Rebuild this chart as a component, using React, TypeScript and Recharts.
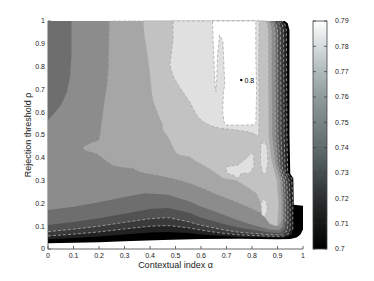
import React from 'react';
import { ComposedChart, Scatter, Bar, XAxis, YAxis, ReferenceDot, Label } from 'recharts';

type Pt = { x: number; y: number };
const P = (x: number, y: number): Pt => ({ x, y });

// axis ticks
const xTicks = [0, 0.1, 0.2, 0.3, 0.4, 0.5, 0.6, 0.7, 0.8, 0.9, 1];
const yTicks = [0, 0.1, 0.2, 0.3, 0.4, 0.5, 0.6, 0.7, 0.8, 0.9, 1];
const barTicks = [0.7, 0.71, 0.72, 0.73, 0.74, 0.75, 0.76, 0.77, 0.78, 0.79];

// contour levels (one shade per filled band)
const levels = [0.7, 0.71, 0.72, 0.73, 0.74, 0.75, 0.76, 0.77, 0.78, 0.79];
const shades = ['#000000', '#222222', '#3a3a3a', '#525252', '#6e6e6e', '#8c8c8c', '#a6a6a6', '#c2c2c2', '#e0e0e0', '#ffffff'];

// colour bar spans the level range
const colorbar = [{ name: 'cb', range: [0.7, 0.79] }];

// region where value >= 0.70 (outline of the computed domain)
const region0: Pt[] = [
  P(0, 1), P(0, 0.025), P(0.1, 0.027), P(0.2, 0.03), P(0.3, 0.034), P(0.45, 0.04), P(0.6, 0.044),
  P(0.75, 0.045), P(0.9, 0.043), P(0.95, 0.044), P(0.975, 0.05), P(0.99, 0.064), P(1, 0.085),
  P(1, 0.19), P(0.964, 0.194), P(0.962, 0.31), P(0.95, 0.33), P(0.947, 0.5), P(0.947, 0.96),
  P(0.94, 0.99), P(0.928, 1),
];

// lower bands: bottom edge (left to right) and right edge (bottom to top)
const bottom1: Pt[] = [P(0, 0.043), P(0.1, 0.048), P(0.2, 0.055), P(0.3, 0.064), P(0.4, 0.072), P(0.47, 0.075), P(0.55, 0.07), P(0.6, 0.064), P(0.67, 0.058), P(0.75, 0.053), P(0.87, 0.05), P(0.93, 0.05), P(0.955, 0.062)];
const right1: Pt[] = [P(0.96, 0.085), P(0.96, 0.2), P(0.956, 0.31), P(0.94, 0.33), P(0.937, 0.5), P(0.935, 0.96), P(0.928, 0.99), P(0.917, 1)];

const bottom2: Pt[] = [P(0, 0.057), P(0.1, 0.065), P(0.2, 0.075), P(0.3, 0.088), P(0.4, 0.1), P(0.47, 0.103), P(0.55, 0.093), P(0.6, 0.083), P(0.67, 0.071), P(0.75, 0.062), P(0.87, 0.056), P(0.92, 0.056), P(0.945, 0.068)];
const right2: Pt[] = [P(0.95, 0.09), P(0.95, 0.2), P(0.946, 0.3), P(0.93, 0.34), P(0.926, 0.5), P(0.924, 0.96), P(0.918, 0.99), P(0.907, 1)];

const bottom3: Pt[] = [P(0, 0.076), P(0.1, 0.087), P(0.2, 0.1), P(0.3, 0.117), P(0.4, 0.133), P(0.47, 0.138), P(0.55, 0.12), P(0.6, 0.104), P(0.67, 0.088), P(0.75, 0.073), P(0.87, 0.063), P(0.915, 0.062), P(0.937, 0.078)];
const right3: Pt[] = [P(0.941, 0.11), P(0.941, 0.2), P(0.936, 0.3), P(0.92, 0.35), P(0.914, 0.5), P(0.912, 0.96), P(0.906, 0.99), P(0.896, 1)];

const bottom4: Pt[] = [P(0, 0.105), P(0.1, 0.118), P(0.2, 0.135), P(0.3, 0.155), P(0.4, 0.175), P(0.47, 0.18), P(0.55, 0.16), P(0.6, 0.138), P(0.67, 0.115), P(0.75, 0.093), P(0.8, 0.084), P(0.87, 0.072), P(0.91, 0.07), P(0.928, 0.088)];
const right4: Pt[] = [P(0.931, 0.12), P(0.931, 0.2), P(0.927, 0.3), P(0.91, 0.36), P(0.902, 0.5), P(0.9, 0.96), P(0.894, 0.99), P(0.884, 1)];

const bottom5: Pt[] = [P(0, 0.171), P(0.1, 0.185), P(0.2, 0.205), P(0.3, 0.228), P(0.38, 0.245), P(0.47, 0.238), P(0.55, 0.21), P(0.6, 0.186), P(0.67, 0.158), P(0.74, 0.128), P(0.8, 0.106), P(0.87, 0.086), P(0.905, 0.082), P(0.92, 0.098)];
const right5: Pt[] = [P(0.922, 0.13), P(0.922, 0.2), P(0.918, 0.3), P(0.9, 0.37), P(0.892, 0.5), P(0.89, 0.96), P(0.884, 0.99), P(0.873, 1)];
const topLeft5: Pt[] = [P(0.092, 1), P(0.092, 0.85), P(0.087, 0.76), P(0.075, 0.69), P(0.05, 0.63), P(0.02, 0.59), P(0, 0.565)];

const region6: Pt[] = [
  P(0.242, 1), P(0.24, 0.9), P(0.238, 0.8), P(0.233, 0.72), P(0.223, 0.653), P(0.215, 0.58), P(0.205, 0.5),
  P(0.2, 0.475), P(0.17, 0.465), P(0.145, 0.45), P(0.137, 0.443), P(0.15, 0.432), P(0.19, 0.42), P(0.22, 0.395),
  P(0.254, 0.368), P(0.29, 0.36), P(0.333, 0.355), P(0.36, 0.34), P(0.386, 0.333), P(0.43, 0.325), P(0.49, 0.31),
  P(0.556, 0.29), P(0.607, 0.267), P(0.67, 0.237), P(0.739, 0.207), P(0.79, 0.183), P(0.84, 0.158), P(0.88, 0.126),
  P(0.908, 0.106), P(0.915, 0.13), P(0.915, 0.2), P(0.91, 0.3), P(0.89, 0.38), P(0.878, 0.5), P(0.876, 0.96),
  P(0.871, 0.99), P(0.862, 1),
];

const region7: Pt[] = [
  P(0.373, 1), P(0.378, 0.93), P(0.39, 0.85), P(0.4, 0.763), P(0.405, 0.7), P(0.411, 0.653), P(0.418, 0.63),
  P(0.435, 0.58), P(0.45, 0.544), P(0.45, 0.522), P(0.465, 0.5), P(0.477, 0.478), P(0.49, 0.445), P(0.503, 0.42),
  P(0.517, 0.412), P(0.556, 0.404), P(0.58, 0.385), P(0.607, 0.368), P(0.65, 0.34), P(0.686, 0.31), P(0.739, 0.3),
  P(0.78, 0.272), P(0.817, 0.244), P(0.835, 0.2), P(0.85, 0.14), P(0.87, 0.11), P(0.9, 0.1), P(0.905, 0.2),
  P(0.898, 0.3), P(0.875, 0.4), P(0.866, 0.5), P(0.864, 0.96), P(0.86, 0.99), P(0.85, 1),
];

const region8: Pt[] = [
  P(0.49, 1), P(0.49, 0.92), P(0.484, 0.86), P(0.478, 0.807), P(0.49, 0.76), P(0.51, 0.72), P(0.528, 0.69),
  P(0.555, 0.646), P(0.582, 0.588), P(0.607, 0.558), P(0.64, 0.54), P(0.673, 0.53), P(0.739, 0.522),
  P(0.78, 0.515), P(0.81, 0.505), P(0.826, 0.49), P(0.828, 0.6), P(0.826, 0.8), P(0.828, 1),
];
const patch8a: Pt[] = [P(0.7, 0.361), P(0.745, 0.368), P(0.778, 0.398), P(0.797, 0.42), P(0.807, 0.412), P(0.807, 0.361), P(0.791, 0.332), P(0.758, 0.332), P(0.745, 0.31), P(0.725, 0.325), P(0.7, 0.332)];
const patch8b: Pt[] = [P(0.835, 0.46), P(0.85, 0.47), P(0.86, 0.44), P(0.862, 0.38), P(0.855, 0.33), P(0.84, 0.335), P(0.833, 0.38)];
const patch8c: Pt[] = [P(0.835, 0.2), P(0.845, 0.218), P(0.857, 0.21), P(0.86, 0.17), P(0.85, 0.14), P(0.838, 0.15)];

const region9: Pt[] = [
  P(0.645, 1), P(0.648, 0.9), P(0.652, 0.8), P(0.655, 0.72), P(0.658, 0.69), P(0.662, 0.75), P(0.665, 0.85),
  P(0.673, 0.939), P(0.686, 0.909), P(0.69, 0.8), P(0.693, 0.72), P(0.688, 0.69), P(0.685, 0.6), P(0.69, 0.56),
  P(0.693, 0.544), P(0.75, 0.543), P(0.815, 0.545), P(0.818, 0.7), P(0.815, 0.85), P(0.815, 1),
];

const peakLabel = [{ x: 0.758, y: 0.741, text: '0.8' }];

const topLeftCorner = [P(0, 1)];

const fills: { pts: Pt[]; level: number; outline: boolean }[] = [
  { pts: region0, level: 0, outline: false },
  { pts: [...bottom1, ...right1, ...topLeftCorner], level: 1, outline: false },
  { pts: [...bottom2, ...right2, ...topLeftCorner], level: 2, outline: false },
  { pts: [...bottom3, ...right3, ...topLeftCorner], level: 3, outline: false },
  { pts: [...bottom4, ...right4, ...topLeftCorner], level: 4, outline: false },
  { pts: [...bottom5, ...right5, ...topLeft5], level: 5, outline: false },
  { pts: region6, level: 6, outline: true },
  { pts: region7, level: 7, outline: true },
  { pts: region8, level: 8, outline: true },
  { pts: patch8a, level: 8, outline: true },
  { pts: patch8b, level: 8, outline: true },
  { pts: patch8c, level: 8, outline: true },
  { pts: region9, level: 9, outline: true },
];

const dashedEdges: Pt[][] = [right1, [...bottom2, ...right2], [...bottom3, ...right3], right4, right5];

const LINE = '#a9a9a9';

const polygon = (fill: string, outline: boolean) => (p: any) => (
  <polygon
    points={(p.points || []).map((q: Pt) => `${q.x},${q.y}`).join(' ')}
    fill={fill}
    stroke={outline ? LINE : 'none'}
    strokeWidth={0.8}
    strokeDasharray={outline ? '3 2' : undefined}
  />
);
const noDot = () => <g />;

// colour bar body: gradient rectangle plus the inward tick marks on both edges
const ColorbarShape = (p: any) => {
  const { x, y, width, height } = p;
  const lo = barTicks[0];
  const hi = barTicks[barTicks.length - 1];
  return (
    <g>
      <rect x={x} y={y} width={width} height={height} fill="url(#bone)" stroke="#444" strokeWidth={0.8} />
      {barTicks.map((t) => {
        const ty = y + (height * (hi - t)) / (hi - lo);
        return (
          <g key={t}>
            <line x1={x} x2={x + 3} y1={ty} y2={ty} stroke="#333" strokeWidth={0.7} />
            <line x1={x + width - 3} x2={x + width} y1={ty} y2={ty} stroke="#333" strokeWidth={0.7} />
          </g>
        );
      })}
    </g>
  );
};

const tickStyle = { fontSize: 7, fill: '#222' };

export default function App() {
  return (
    <div style={{ position: 'absolute', left: 0, top: 0, width: 374, height: 281, background: '#fff', fontFamily: '"Liberation Sans", Arial, sans-serif' }}>
      <div style={{ position: 'absolute', left: 0, top: 0 }}>
        <ComposedChart width={374} height={281} margin={{ top: 21, right: 71, bottom: 7, left: 0 }}>
          {fills.map((f, i) => (
            <Scatter
              key={`f${i}`}
              data={f.pts}
              dataKey="y"
              line={polygon(shades[f.level], f.outline)}
              shape={noDot}
              isAnimationActive={false}
              name={`${levels[f.level]}`}
            />
          ))}
          {dashedEdges.map((e, i) => (
            <Scatter
              key={`d${i}`}
              data={e}
              dataKey="y"
              line={{ stroke: LINE, strokeWidth: 0.8, strokeDasharray: '3 2', fill: 'none' }}
              shape={noDot}
              isAnimationActive={false}
            />
          ))}
          {peakLabel.map((p) => (
            <ReferenceDot
              key={p.text}
              x={p.x}
              y={p.y}
              r={1.2}
              fill="#000"
              stroke="none"
              label={{ value: p.text, position: 'right', offset: 2, fontSize: 7, fill: '#000' }}
            />
          ))}
          <XAxis
            dataKey="x"
            type="number"
            domain={[0, 1]}
            ticks={xTicks}
            interval={0}
            tickSize={-3}
            tickMargin={7}
            height={25}
            stroke="#666"
            tick={tickStyle}
          >
            <Label value="Contextual index α" position="insideBottom" offset={6} style={{ fontSize: 9, fill: '#222' }} />
          </XAxis>
          <YAxis
            dataKey="y"
            type="number"
            domain={[0, 1]}
            ticks={yTicks}
            interval={0}
            tickSize={-3}
            tickMargin={6}
            width={48}
            stroke="#666"
            tick={tickStyle}
          >
            <Label value="Rejection threshold ρ" angle={-90} position="insideLeft" offset={28} style={{ fontSize: 9, fill: '#222', textAnchor: 'middle' }} />
          </YAxis>
        </ComposedChart>
      </div>
      <div style={{ position: 'absolute', left: 300, top: 0 }}>
        <ComposedChart width={74} height={281} data={colorbar} barCategoryGap={0} margin={{ top: 21, right: 0, bottom: 32, left: 13 }}>
          <defs>
            <linearGradient id="bone" x1="0" y1="1" x2="0" y2="0">
              <stop offset="0%" stopColor="#000000" />
              <stop offset="22%" stopColor="#2a2e2e" />
              <stop offset="44%" stopColor="#5f6b6b" />
              <stop offset="56%" stopColor="#798585" />
              <stop offset="67%" stopColor="#909c9c" />
              <stop offset="78%" stopColor="#b0baba" />
              <stop offset="89%" stopColor="#d6dcdc" />
              <stop offset="100%" stopColor="#ffffff" />
            </linearGradient>
          </defs>
          <XAxis dataKey="name" type="category" hide />
          <Bar dataKey="range" shape={ColorbarShape} isAnimationActive={false} />
          <YAxis orientation="right" type="number" domain={[0.7, 0.79]} ticks={barTicks} interval={0} width={47} tickLine={false} tickMargin={2} axisLine={false} tick={tickStyle} />
        </ComposedChart>
      </div>
    </div>
  );
}
